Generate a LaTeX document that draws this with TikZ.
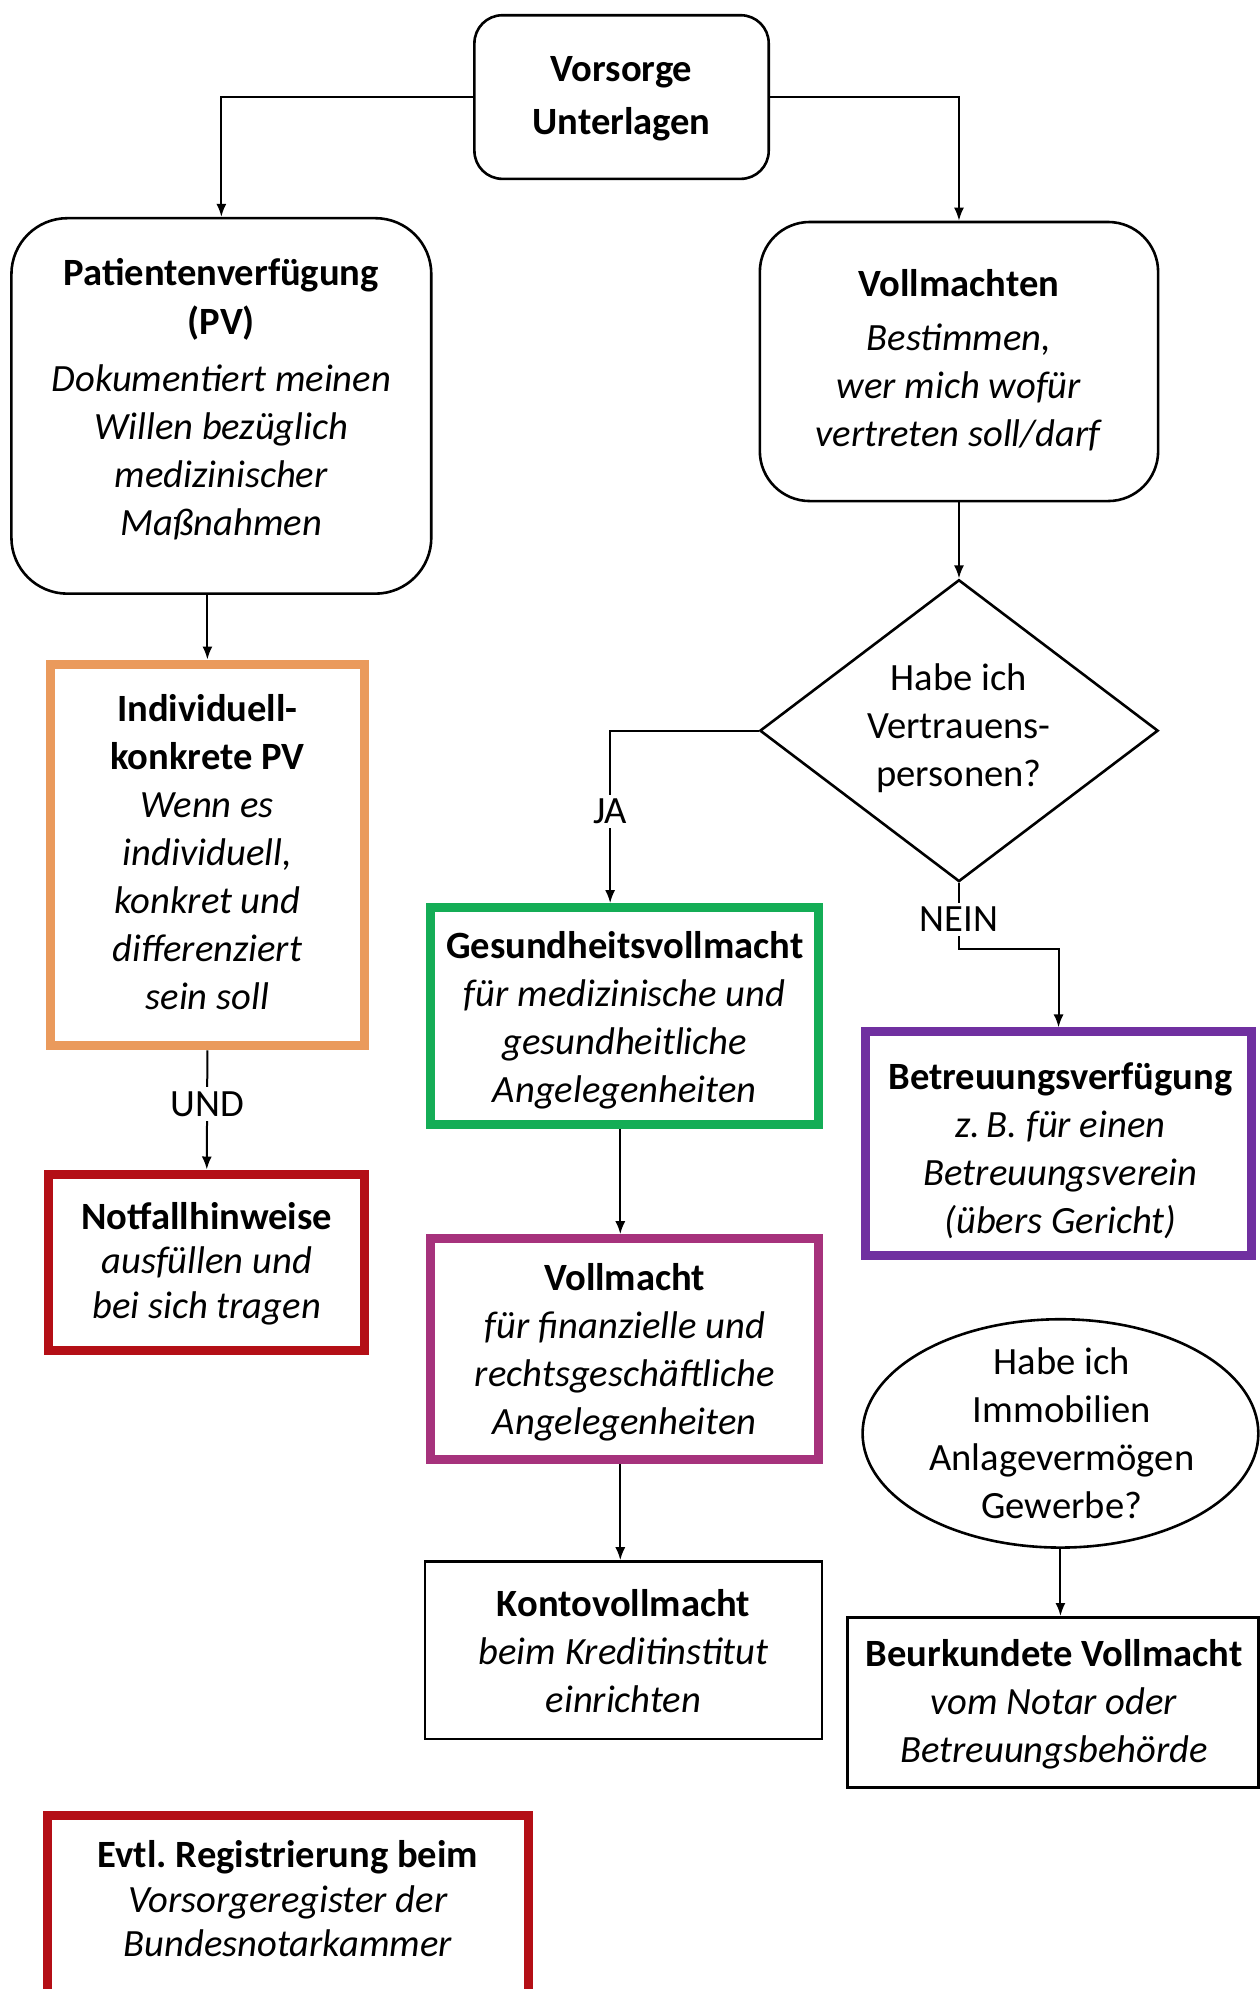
\documentclass[tikz,border=0pt]{standalone}
\usepackage{fontspec}
\setmainfont{Carlito}
\usetikzlibrary{shapes.geometric,arrows.meta,calc}
\definecolor{corange}{HTML}{EA9A5C}
\definecolor{cred}{HTML}{B40F16}
\definecolor{cgreen}{HTML}{14AD56}
\definecolor{cmagenta}{HTML}{A6327C}
\definecolor{cpurple}{HTML}{7030A0}
\newcommand\uu{0.6345pt}
\frenchspacing
\begin{document}
\begin{tikzpicture}[x=0.6345pt,y=-0.6345pt,
  every node/.style={font=\fontsize{19.3}{24}\selectfont, align=center, inner sep=0pt},
  tight/.style={font=\fontsize{19.3}{22.3}\selectfont},
  rbox/.style={draw, line width=1.3pt, rounded corners=#1},
  thin/.style={draw, line width=1.3pt, rectangle},
  thick/.style={draw=#1, line width=4.5pt, rectangle},
  arr/.style={line width=1pt, -{Latex[length=6.5pt,width=5pt]}},
  lbl/.style={fill=white, inner sep=2pt}
]
\useasboundingbox (0,0) rectangle (993,1568);

% ---------- boxes ----------
\node[rbox=14pt, minimum width=232*\uu, minimum height=129*\uu] (top) at (490,76.5) {};
\node (topT) at (490,78) {\textbf{Vorsorge}\\[2.6pt]\textbf{Unterlagen}};

\node[rbox=28pt, minimum width=331*\uu, minimum height=296*\uu] (pv) at (174.5,320) {};
\node (pvT) at (174.5,314.5)
  {\textbf{Patientenverfügung}\\[0.7pt]\textbf{(PV)}\\[4.6pt]\textit{Dokumentiert meinen}\\\textit{Willen bezüglich}\\\textit{medizinischer}\\\textit{Maßnahmen}};

\node[rbox=25pt, minimum width=314*\uu, minimum height=220*\uu] (voll) at (756,285) {};
\node (vollT) at (756,284)
  {\textbf{Vollmachten}\\[2.6pt]\textit{Bestimmen,}\\\textit{wer mich wofür}\\\textit{vertreten soll/darf}};

\node[thick=corange, minimum width=248*\uu, minimum height=301*\uu] (ind) at (163.5,674) {};
\node (indT) at (163.5,672)
  {\textbf{Individuell-}\\\textbf{konkrete PV}\\\textit{Wenn es}\\\textit{individuell,}\\\textit{konkret und}\\\textit{differenziert}\\\textit{sein soll}};

\node[thick=cred, minimum width=249*\uu, minimum height=139*\uu] (not) at (163,995) {};
\node[tight] (notT) at (163,996)
  {\textbf{Notfallhinweise}\\\textit{ausfüllen und}\\\textit{bei sich tragen}};

\node[diamond, draw, line width=1.3pt, minimum width=314*\uu, minimum height=238*\uu] (dia) at (756,576) {};
\node (diaT) at (756,574) {Habe ich\\Vertrauens-\\personen?};

\node[thick=cgreen, minimum width=306*\uu, minimum height=171*\uu] (ges) at (492.5,801) {};
\node (gesT) at (492.5,804)
  {\textbf{Gesundheitsvollmacht}\\\textit{für medizinische und}\\\textit{gesundheitliche}\\\textit{Angelegenheiten}};

\node[thick=cmagenta, minimum width=306*\uu, minimum height=174*\uu] (vm) at (492.5,1063.5) {};
\node (vmT) at (492.5,1066)
  {\textbf{Vollmacht}\\\textit{für finanzielle und}\\\textit{rechtsgeschäftliche}\\\textit{Angelegenheiten}};

\node[thin, minimum width=313*\uu, minimum height=140*\uu] (konto) at (491.5,1301) {};
\node (kontoT) at (491.5,1301.5)
  {\textbf{Kontovollmacht}\\\textit{beim Kreditinstitut}\\\textit{einrichten}};

\node[thick=cpurple, minimum width=304*\uu, minimum height=176*\uu] (betr) at (834.5,901.5) {};
\node (betrT) at (836,907)
  {\textbf{Betreuungsverfügung}\\\textit{z.\,B. für einen}\\\textit{Betreuungsverein}\\\textit{(übers Gericht)}};

\node[ellipse, draw, line width=1.3pt, minimum width=312*\uu, minimum height=180*\uu] (ell) at (836,1130) {};
\node (ellT) at (837,1130) {Habe ich\\Immobilien\\Anlagevermögen\\Gewerbe?};

\node[thin, minimum width=324*\uu, minimum height=134*\uu] (beur) at (830,1342) {};
\node (beurT) at (831,1343.5)
  {\textbf{Beurkundete Vollmacht}\\\textit{vom Notar oder}\\\textit{Betreuungsbehörde}};

\node[thick=cred, minimum width=379*\uu, minimum height=150*\uu] (evtl) at (227,1506.5) {};
\node[tight] (evtlT) at (227,1497)
  {\textbf{Evtl. Registrierung beim}\\\textit{Vorsorgeregister der}\\\textit{Bundesnotarkammer}};

% ---------- connectors ----------
\coordinate (ja) at (481,576);
\coordinate (nein) at (756,748);
\draw[arr] (top.west) -| (pv.north);
\draw[arr] (top.east) -| (voll.north);
\draw[arr] (pv.south -| ind.north) -- (ind.north);
\draw[arr] (ind.south) -- node[lbl, pos=0.45]{UND} (not.north);
\draw[arr] (voll.south) -- (dia.north);
\draw[arr] (dia.west) -- (ja) -- node[lbl, pos=0.47]{JA} (ja |- ges.north);
\draw[arr] (dia.south) -- node[lbl, pos=0.55]{NEIN} (nein) -| (betr.north);
\draw[arr] (ges.south -| 489,0) -- (vm.north -| 489,0);
\draw[arr] (vm.south -| 489,0) -- (konto.north -| 489,0);
\draw[arr] (ell.south) -- (ell.south |- beur.north);
\end{tikzpicture}
\end{document}
